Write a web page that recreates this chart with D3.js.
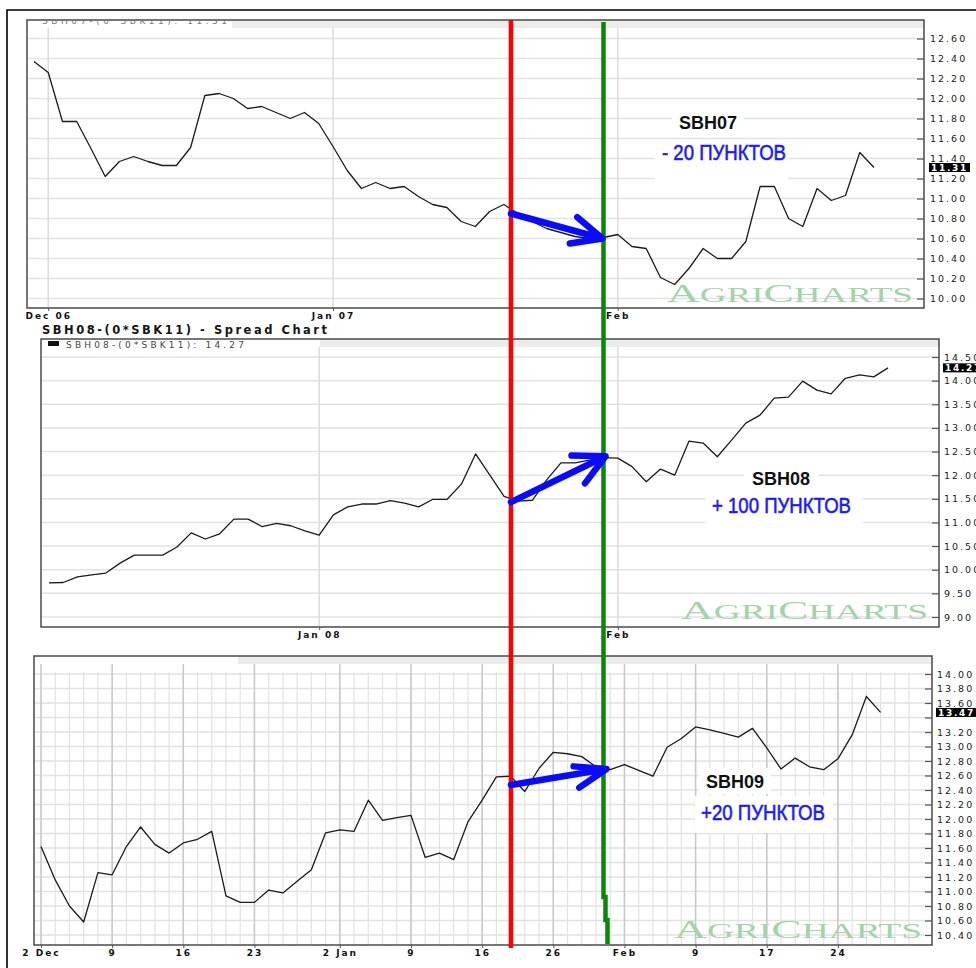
<!DOCTYPE html>
<html><head><meta charset="utf-8">
<script src="https://cdn.jsdelivr.net/npm/d3@7/dist/d3.min.js"></script>
<style>html,body{margin:0;padding:0;background:#fff;}svg{display:block;}</style>
</head><body>
<svg id="chart" width="976" height="968"></svg>
<script>
// ---------- data ----------
const sbh07 = [12.37,12.26,11.77,11.77,11.50,11.22,11.37,11.42,11.37,11.33,
               11.33,11.51,12.03,12.05,12.00,11.90,11.92,11.86,11.80,11.86,
               11.75,11.52,11.28,11.10,11.16,11.10,11.12,11.02,10.94,10.91,
               10.77,10.72,10.87,10.94,10.85,10.77,10.70,10.66,10.62,10.60,
               10.61,10.64,10.52,10.50,10.21,10.14,10.30,10.50,10.40,10.40,
               10.57,11.12,11.12,10.80,10.72,11.10,10.98,11.03,11.46,11.31];
const sbh08 = [9.72,9.73,9.85,9.89,9.93,10.14,10.31,10.31,10.31,10.48,
               10.78,10.65,10.76,11.07,11.07,10.91,10.98,10.93,10.82,10.73,
               11.16,11.33,11.39,11.39,11.46,11.41,11.33,11.49,11.49,11.81,
               12.45,12.00,11.55,11.45,11.47,11.90,12.26,12.26,12.32,12.37,
               12.36,12.18,11.86,12.13,12.00,12.72,12.68,12.39,12.74,13.10,
               13.27,13.63,13.65,13.99,13.80,13.72,14.05,14.12,14.08,14.27];
const sbh09 = [11.62,11.16,10.80,10.58,11.26,11.23,11.62,11.89,11.65,11.53,
               11.67,11.72,11.83,10.94,10.85,10.85,11.02,10.98,11.14,11.30,
               11.81,11.85,11.83,12.26,11.98,12.02,12.05,11.47,11.53,11.44,
               11.96,12.26,12.58,12.59,12.38,12.70,12.92,12.90,12.86,12.72,
               12.68,12.75,12.67,12.59,12.99,13.11,13.27,13.23,13.18,13.13,
               13.25,12.98,12.69,12.84,12.72,12.68,12.83,13.16,13.69,13.47];

const xTicks07 = [1, 21, 41];
const xLabels07 = ["Dec 06", "Jan 07", "Feb"];
const xTicks08 = [19, 40];
const xLabels08 = ["Jan 08", "Feb"];
const xTicks09 = [0, 5, 10, 15, 21, 26, 31, 36, 41, 46, 51, 56];
const xLabels09 = ["2 Dec", "9", "16", "23", "2 Jan", "9", "16", "26", "Feb", "9", "17", "24"];

const yTicks07 = [10.0,10.2,10.4,10.6,10.8,11.0,11.2,11.4,11.6,11.8,12.0,12.2,12.4,12.6];
const yTicks08 = [9.0,9.5,10.0,10.5,11.0,11.5,12.0,12.5,13.0,13.5,14.0,14.5];
const yTicks09 = [10.4,10.6,10.8,11.0,11.2,11.4,11.6,11.8,12.0,12.2,12.4,12.6,12.8,13.0,13.2,13.4,13.6,13.8,14.0];

const spreadNames = ["SBH07", "SBH08", "SBH09"];
const resultLabels = ["- 20 ПУНКТОВ", "+ 100 ПУНКТОВ", "+20 ПУНКТОВ"];
const entryValues = [10.85, 11.43, 12.47];
const exitValues  = [10.60, 12.40, 12.69];
const entryIndex07 = 33.5, exitIndex07 = 40;

const legend07 = "SBH07-(0*SBK11): 11.31";
const title08 = "SBH08-(0*SBK11) - Spread Chart";
const legend08 = "SBH08-(0*SBK11): 14.27";
const brand = ["A", "GRI", "C", "HARTS"];

// ---------- drawing ----------
const svg = d3.select("#chart");
const SANS = "'DejaVu Sans', Verdana, sans-serif";
svg.append("rect").attr("width", 976).attr("height", 968).attr("fill", "#fff");

function drawPanel(p) {
  const g = svg.append("g");
  const x = d3.scaleLinear().domain([0, p.data.length - 1]).range(p.xr);
  const y = d3.scaleLinear().domain(p.yd).range(p.yr);
  g.append("rect").attr("x", p.L).attr("y", p.T).attr("width", p.R - p.L).attr("height", p.B - p.T).attr("fill", "#fff");
  g.append("rect").attr("x", p.bandX).attr("y", p.T).attr("width", p.R - p.bandX).attr("height", 8).attr("fill", "#ececec");
  if (p.daily) {
    g.append("g").selectAll("line").data(d3.range(0, p.daily)).join("line")
      .attr("x1", d => x(d)).attr("x2", d => x(d)).attr("y1", p.T + 16).attr("y2", p.B)
      .attr("stroke", "#e2e2e2").attr("stroke-width", 1.2);
  }
  g.append("g").selectAll("line").data(p.yTicks).join("line")
    .attr("x1", p.L).attr("x2", p.R).attr("y1", d => y(d)).attr("y2", d => y(d))
    .attr("stroke", "#e2e2e2").attr("stroke-width", 1.5);
  g.append("g").selectAll("line").data(p.xTicks).join("line")
    .attr("x1", d => x(d)).attr("x2", d => x(d)).attr("y1", p.T + 8).attr("y2", p.B)
    .attr("stroke", p.daily ? "#c8c8c8" : "#dcdcdc").attr("stroke-width", 1.5);

  // watermark
  const wm = g.append("text").attr("x", p.wm[0]).attr("y", p.wm[1])
    .attr("font-family", "'Liberation Serif','DejaVu Serif',serif")
    .attr("fill", "#a3d4a7").attr("textLength", p.wm[2]).attr("lengthAdjust", "spacingAndGlyphs");
  brand.forEach((s, i) => wm.append("tspan").attr("font-size", i % 2 ? 20.5 : 25).text(s));

  g.append("path").datum(p.data).attr("fill", "none").attr("stroke", "#1b1b1b")
    .attr("stroke-width", 1.3).attr("stroke-linejoin", "round")
    .attr("d", d3.line().x((d, i) => x(i)).y(d => y(d)));

  g.append("rect").attr("x", p.L).attr("y", p.T).attr("width", p.R - p.L).attr("height", p.B - p.T)
    .attr("fill", "none").attr("stroke", "#4a4a4a").attr("stroke-width", 1.5);

  const tg = g.append("g").attr("transform", `translate(${p.R},0)`)
    .call(d3.axisLeft(y).tickValues(p.yTicks).tickSize(7).tickFormat(""));
  tg.select(".domain").remove();
  tg.selectAll("line").attr("stroke", "#555").attr("stroke-width", 1.2);

  const last = p.data[p.data.length - 1];
  const lg = g.append("g").attr("transform", `translate(${p.labX},0)`)
    .call(d3.axisRight(y).tickValues(p.yTicks.filter(t => Math.abs(y(t) - y(last)) > 6.5))
      .tickSize(0).tickPadding(0).tickFormat(d3.format(".2f")));
  lg.select(".domain").remove();
  lg.selectAll("text").attr("font-family", SANS).attr("font-size", 9.5)
    .attr("letter-spacing", 2).attr("fill", "#1a1a1a");

  const vb = g.append("g").attr("transform", `translate(${p.labX},${y(last)})`);
  vb.append("rect").attr("x", -1).attr("y", -4.5).attr("width", 41).attr("height", 9).attr("fill", "#000");
  vb.append("text").attr("x", 1).attr("dy", "0.35em").attr("fill", "#fff")
    .attr("font-family", SANS).attr("font-weight", "bold").attr("font-size", 9)
    .attr("letter-spacing", 1.7).text(d3.format(".2f")(last));

  const xg = g.append("g").attr("transform", `translate(0,${p.B})`)
    .call(d3.axisBottom(x).tickValues(p.xTicks).tickSize(3).tickPadding(2)
      .tickFormat((d, i) => p.xLabels[i]));
  xg.select(".domain").remove();
  xg.selectAll("line").attr("stroke", "#555");
  xg.selectAll("text").attr("font-family", SANS).attr("font-weight", "bold")
    .attr("font-size", 9).attr("letter-spacing", 2).attr("fill", "#111");
  return { x, y };
}

const P1 = drawPanel({ data: sbh07, xr: [34, 874], yd: [10, 12.6], yr: [298.5, 38.5],
  L: 27, R: 924, T: 20, B: 308, bandX: 232, yTicks: yTicks07, xTicks: xTicks07, xLabels: xLabels07,
  labX: 930, wm: [667, 302, 246] });
const P2 = drawPanel({ data: sbh08, xr: [49, 888], yd: [9, 14.5], yr: [617, 357],
  L: 41, R: 939, T: 339, B: 627, bandX: 320, yTicks: yTicks08, xTicks: xTicks08, xLabels: xLabels08,
  labX: 944, wm: [681, 619, 247] });
const P3 = drawPanel({ data: sbh09, xr: [41, 880.6], yd: [10.4, 14.0], yr: [935, 674],
  L: 34, R: 932, T: 656, B: 945, bandX: 238, yTicks: yTicks09, xTicks: xTicks09, xLabels: xLabels09,
  labX: 937, daily: 62, wm: [674, 938, 248] });

// top legend (mostly cut off in the picture)
svg.append("clipPath").attr("id", "cl1").append("rect").attr("x", 27).attr("y", 20.5).attr("width", 205).attr("height", 8);
svg.append("text").attr("clip-path", "url(#cl1)").attr("x", 42).attr("y", 23.5)
  .attr("font-family", SANS).attr("font-size", 9).attr("fill", "#777")
  .attr("textLength", 185).attr("lengthAdjust", "spacing").text(legend07);

// middle title + legend
svg.append("text").attr("x", 42).attr("y", 334).attr("font-family", SANS).attr("font-weight", "bold")
  .attr("font-size", 11.5).attr("fill", "#151515").attr("textLength", 285).attr("lengthAdjust", "spacing").text(title08);
svg.append("rect").attr("x", 48).attr("y", 341).attr("width", 11).attr("height", 5).attr("fill", "#111");
svg.append("text").attr("x", 66).attr("y", 347.5).attr("font-family", SANS).attr("font-size", 9)
  .attr("fill", "#444").attr("textLength", 178).attr("lengthAdjust", "spacing").text(legend08);

// outer frame
svg.append("path").attr("d", "M7,968 V10 H976").attr("fill", "none").attr("stroke", "#000").attr("stroke-width", 1.6);

// annotation labels
const notes = [
  { nb: [672, 110, 72, 24], lb: [655, 140, 133, 41], nx: 679, ny: 129, lx: 662, ly: 160, lw: 124 },
  { nb: [744, 465, 74, 24], lb: [705, 489, 158, 36], nx: 752, ny: 485, lx: 712, ly: 513, lw: 139 },
  { nb: [699, 768, 72, 26], lb: [695, 796, 138, 37], nx: 706, ny: 788, lx: 701, ly: 820, lw: 124 }
];
notes.forEach((n, i) => {
  svg.append("rect").attr("x", n.nb[0]).attr("y", n.nb[1]).attr("width", n.nb[2]).attr("height", n.nb[3]).attr("fill", "#fff");
  svg.append("rect").attr("x", n.lb[0]).attr("y", n.lb[1]).attr("width", n.lb[2]).attr("height", n.lb[3]).attr("fill", "#fff");
  svg.append("text").attr("x", n.nx).attr("y", n.ny).attr("font-family", "'Liberation Sans', Arial, sans-serif")
    .attr("font-weight", "bold").attr("font-size", 18).attr("fill", "#111").text(spreadNames[i]);
  svg.append("text").attr("x", n.lx).attr("y", n.ly)
    .attr("font-family", "'Liberation Sans Narrow','Liberation Sans',Arial,sans-serif")
    .attr("font-size", 22).attr("fill", "#1a1aff").attr("stroke", "#1a1aff").attr("stroke-width", 0.6)
    .attr("textLength", n.lw).attr("lengthAdjust", "spacingAndGlyphs").text(resultLabels[i]);
});

// entry / exit vertical lines
const entryX = P1.x(entryIndex07), exitX = P1.x(exitIndex07);
svg.append("line").attr("x1", entryX).attr("x2", entryX).attr("y1", 20).attr("y2", 948)
  .attr("stroke", "#ff0000").attr("stroke-width", 4.5);
svg.append("path").attr("d", `M${exitX},22 V897 h2 V920 h2 V944`).attr("fill", "none")
  .attr("stroke", "#0a870a").attr("stroke-width", 4.5);

// blue arrows
const panels = [P1, P2, P3];
const heads = [[25, -24, 33], [27, -27, 34], [14, -25, 33]];
panels.forEach((P, i) => {
  const x1 = entryX, y1 = P.y(entryValues[i]);
  const x2 = exitX + (i === 0 ? -1 : 1 + i), y2 = P.y(exitValues[i]);
  const ang = Math.atan2(y2 - y1, x2 - x1) + Math.PI;
  const h = heads[i];
  const p1 = [x2 + h[2] * Math.cos(ang + h[0] * Math.PI / 180), y2 + h[2] * Math.sin(ang + h[0] * Math.PI / 180)];
  const p2 = [x2 + h[2] * Math.cos(ang + h[1] * Math.PI / 180), y2 + h[2] * Math.sin(ang + h[1] * Math.PI / 180)];
  svg.append("path")
    .attr("d", `M${x1},${y1} L${x2},${y2} M${p1[0]},${p1[1]} L${x2},${y2} L${p2[0]},${p2[1]}`)
    .attr("fill", "none").attr("stroke", "#0a0aff").attr("stroke-width", 6.5)
    .attr("stroke-linecap", "round").attr("stroke-linejoin", "round");
});
</script>
</body></html>
